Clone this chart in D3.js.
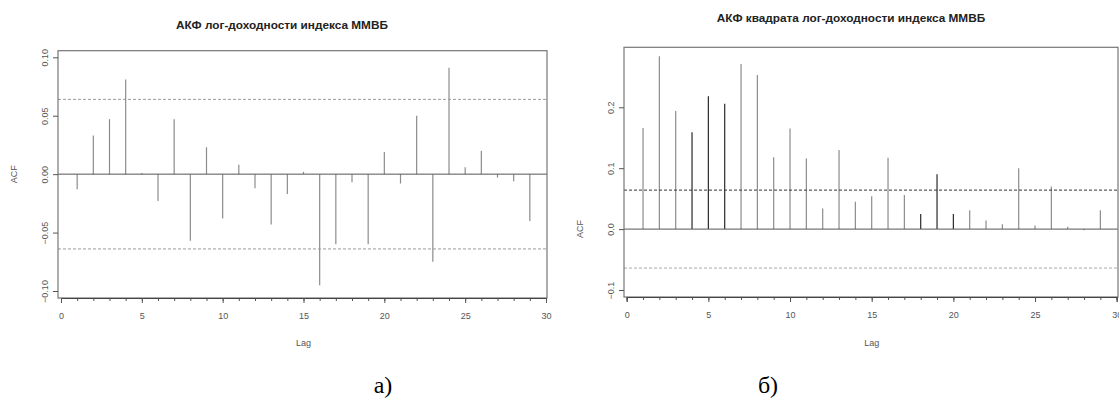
<!DOCTYPE html>
<html>
<head>
<meta charset="utf-8">
<script src="https://cdn.jsdelivr.net/npm/d3@7"></script>
<style>
  body { margin: 0; background: #fff; }
  svg { display: block; }
</style>
</head>
<body>
<svg id="chart" width="1119" height="402"></svg>
<script>
// lags 1..29, values
var lags = d3.range(1, 30);
var acfReturns = [-0.013, 0.033, 0.047, 0.081, 0.001, -0.023, 0.047, -0.057, 0.023, -0.038,
                  0.008, -0.012, -0.043, -0.017, 0.002, -0.095, -0.060, -0.007, -0.060, 0.019,
                  -0.008, 0.050, -0.075, 0.091, 0.006, 0.020, -0.003, -0.006, -0.040];
var acfSquared = [0.166, 0.284, 0.194, 0.159, 0.218, 0.206, 0.271, 0.253, 0.118, 0.165,
                  0.116, 0.034, 0.130, 0.045, 0.054, 0.117, 0.056, 0.025, 0.090, 0.025,
                  0.031, 0.014, 0.008, 0.100, 0.006, 0.070, 0.004, -0.002, 0.031];
var confBound = 0.064;
var xTicks = [0, 5, 10, 15, 20, 25, 30];
var yTicksLeft = [-0.10, -0.05, 0.00, 0.05, 0.10];
var yTicksRight = [-0.1, 0.0, 0.1, 0.2];

var svg = d3.select("#chart");
var sans = "Liberation Sans, Arial, sans-serif";

function drawPanel(opt) {
    var x = d3.scaleLinear().domain([0, 30]).range(opt.xr);
    var y = d3.scaleLinear().domain(opt.yd).range(opt.yr);
    var g = svg.append("g");

    // spikes
    g.selectAll(".spike")
        .data(opt.values)
        .enter()
        .append("line")
        .attr("x1", function(d, i) { return x(lags[i]); })
        .attr("x2", function(d, i) { return x(lags[i]); })
        .attr("y1", y(0))
        .attr("y2", function(d) { return y(d); })
        .attr("stroke", function(d, i) { return opt.dark.indexOf(lags[i]) >= 0 ? "#2a2a2a" : "#8c8c8c"; })
        .attr("stroke-width", 1.2);

    // zero line
    g.append("line")
        .attr("x1", opt.box[0]).attr("x2", opt.box[2])
        .attr("y1", y(0)).attr("y2", y(0))
        .attr("stroke", "#555").attr("stroke-width", 1);

    // confidence bounds
    [confBound, -confBound].forEach(function(c, k) {
        g.append("line")
            .attr("x1", opt.box[0]).attr("x2", opt.box[2])
            .attr("y1", y(c)).attr("y2", y(c))
            .attr("stroke", opt.dashColor[k])
            .attr("stroke-width", 1)
            .attr("stroke-dasharray", "3,2");
    });

    // box
    g.append("rect")
        .attr("x", opt.box[0]).attr("y", opt.box[1])
        .attr("width", opt.box[2] - opt.box[0])
        .attr("height", opt.box[3] - opt.box[1])
        .attr("fill", "none")
        .attr("stroke", "#777")
        .attr("stroke-width", 1.2);

    // x axis: small tick at every lag, labels every 5
    var xa = g.append("g").attr("transform", "translate(0," + opt.box[3] + ")");
    xa.call(d3.axisBottom(x).tickValues(d3.range(0, 31)).tickSize(3).tickFormat(""));
    xa.append("g").call(d3.axisBottom(x).tickValues(xTicks).tickSize(5).tickFormat(d3.format("d")));
    xa.selectAll(".domain").attr("stroke", "#444");
    xa.selectAll(".tick line").attr("stroke", "#555");
    xa.selectAll("text")
        .attr("fill", "#555")
        .attr("font-family", sans)
        .attr("font-size", 9)
        .attr("dy", "1.4em");

    // y axis with rotated labels, R style
    var ya = g.append("g").attr("transform", "translate(" + opt.box[0] + ",0)");
    ya.call(d3.axisLeft(y).tickValues(opt.yTicks).tickSize(5).tickFormat(opt.fmt));
    ya.select(".domain").remove();
    ya.selectAll(".tick line").attr("stroke", "#555");
    ya.selectAll("text")
        .attr("fill", "#555")
        .attr("font-family", sans)
        .attr("font-size", 9)
        .attr("x", 0)
        .attr("y", -10)
        .attr("dy", 0)
        .attr("text-anchor", "middle")
        .attr("transform", "rotate(-90)");

    // axis titles
    g.append("text")
        .attr("x", (opt.xr[0] + opt.xr[1]) / 2)
        .attr("y", 346)
        .attr("text-anchor", "middle")
        .attr("fill", "#555")
        .attr("font-family", sans)
        .attr("font-size", 9)
        .text("Lag");
    g.append("text")
        .attr("transform", "translate(" + opt.acfX + "," + y(0) + ") rotate(-90)")
        .attr("text-anchor", "middle")
        .attr("fill", "#555")
        .attr("font-family", sans)
        .attr("font-size", 9)
        .text("ACF");

    // title
    g.append("text")
        .attr("x", opt.titleX)
        .attr("y", opt.titleY)
        .attr("text-anchor", "middle")
        .attr("fill", "#222")
        .attr("font-family", sans)
        .attr("font-weight", "bold")
        .attr("font-size", 11.8)
        .text(opt.title);

    // sub caption
    svg.append("text")
        .attr("x", opt.capX)
        .attr("y", 393)
        .attr("text-anchor", "middle")
        .attr("fill", "#000")
        .attr("font-family", "Liberation Serif, Times New Roman, serif")
        .attr("font-size", 24)
        .text(opt.caption);
}

drawPanel({
    values: acfReturns,
    xr: [61, 546],
    yd: [-0.10, 0.10],
    yr: [291, 57.3],
    box: [58, 50.7, 547, 298],
    yTicks: yTicksLeft,
    fmt: d3.format(".2f"),
    dark: [],
    dashColor: ["#9a9a9a", "#9a9a9a"],
    title: "АКФ лог-доходности индекса ММВБ",
    titleX: 282, titleY: 29,
    acfX: 17,
    caption: "а)", capX: 383
});

drawPanel({
    values: acfSquared,
    xr: [626.7, 1116.7],
    yd: [-0.1, 0.2],
    yr: [290, 107.3],
    box: [624, 47.3, 1118, 297],
    yTicks: yTicksRight,
    fmt: d3.format(".1f"),
    dark: [4, 5, 6, 18, 19, 20],
    dashColor: ["#333", "#aaa"],
    title: "АКФ квадрата лог-доходности индекса ММВБ",
    titleX: 851, titleY: 22,
    acfX: 583,
    caption: "б)", capX: 768
});
</script>
</body>
</html>
